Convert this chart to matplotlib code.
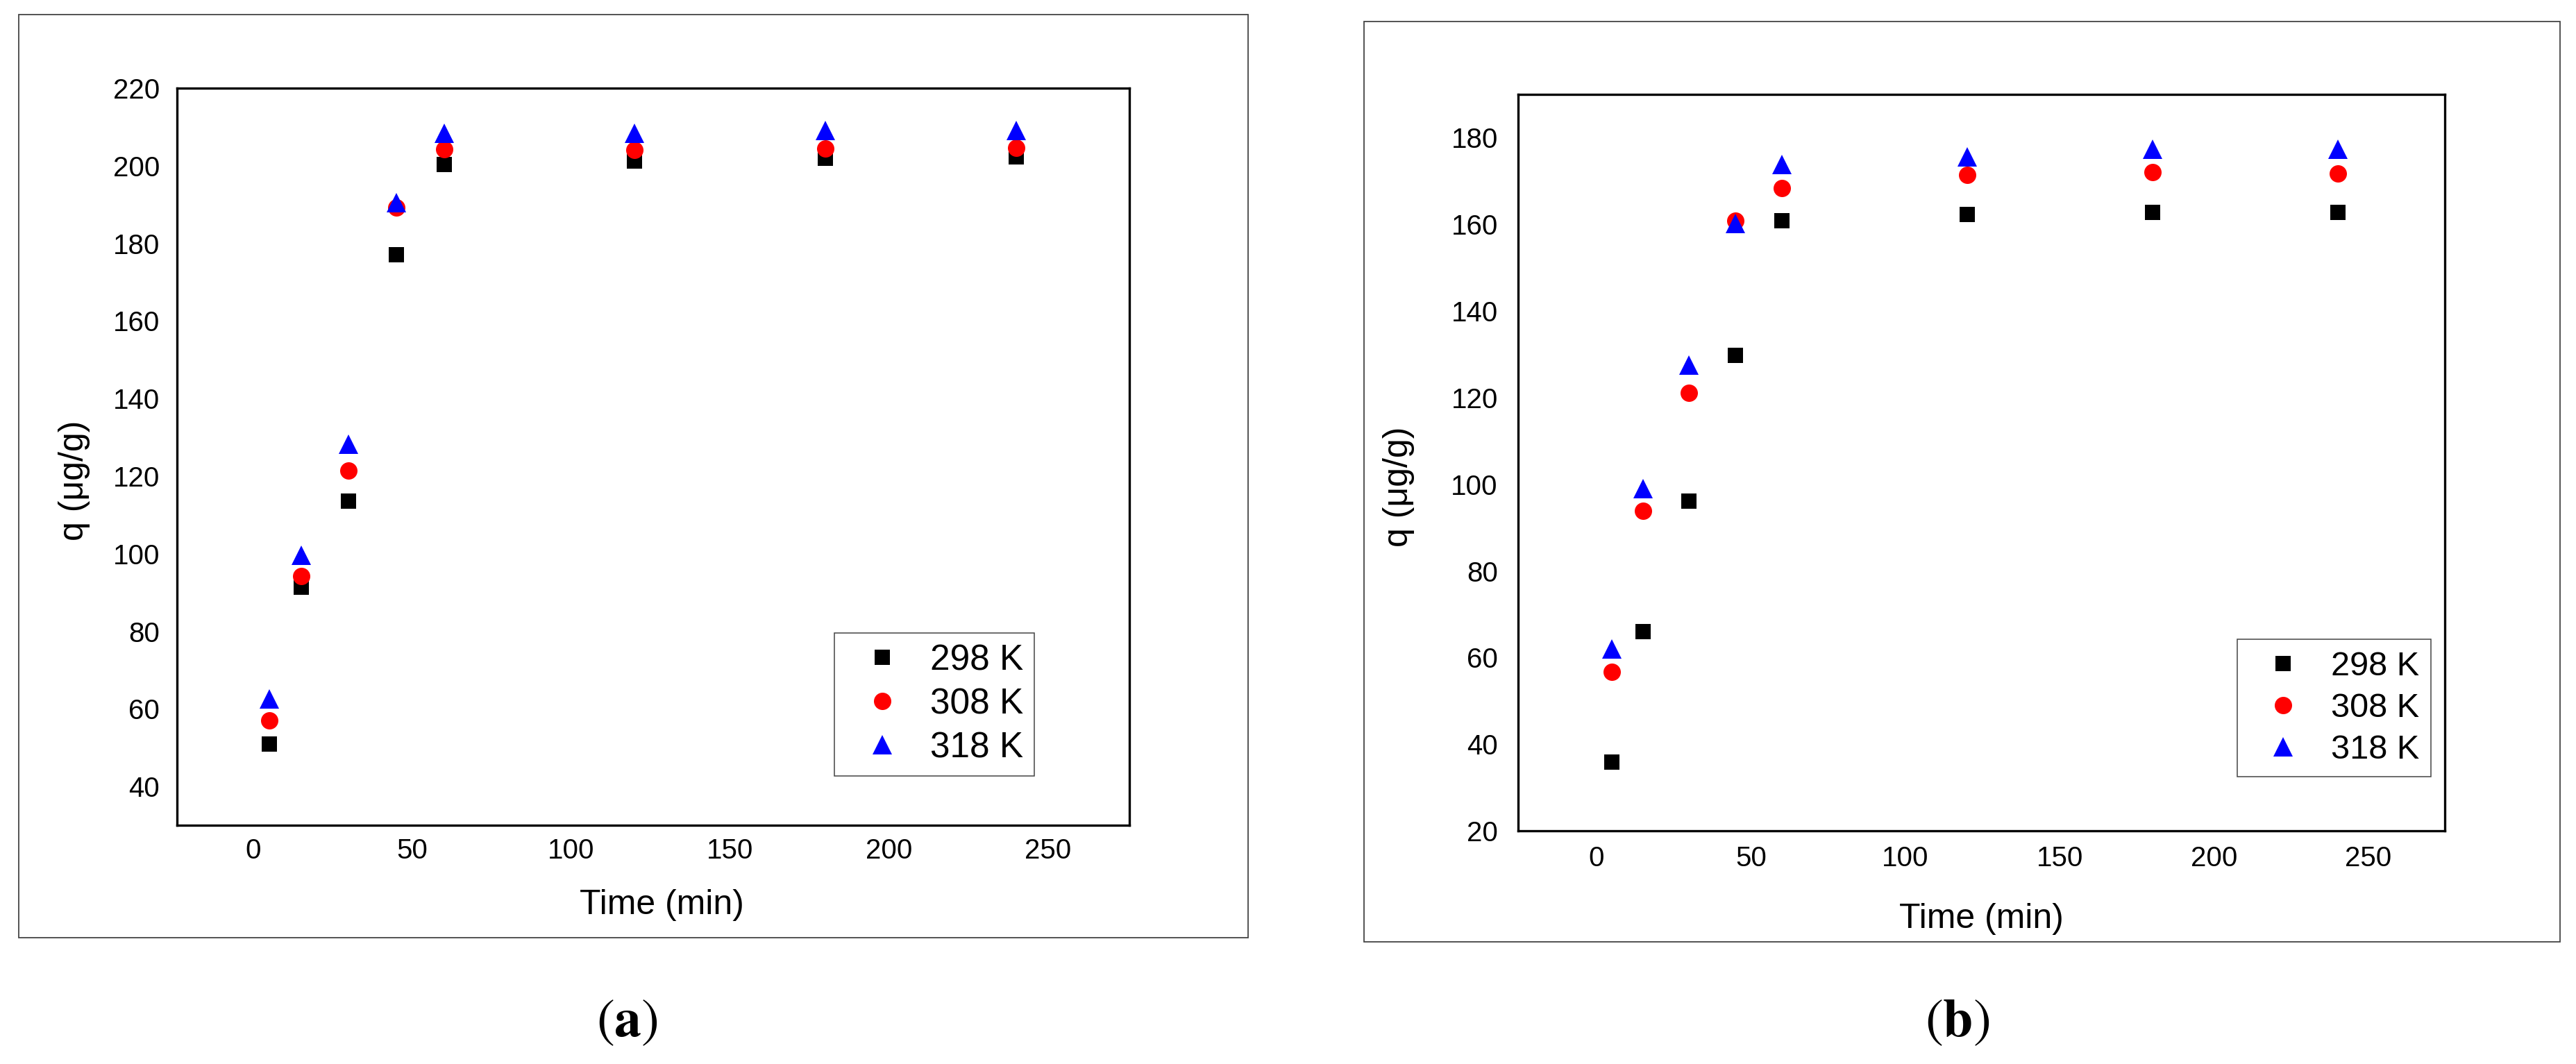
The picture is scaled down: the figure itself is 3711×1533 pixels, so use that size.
import matplotlib
matplotlib.use("Agg")
import matplotlib.pyplot as plt
from matplotlib.patches import Rectangle

plt.rcParams['font.family'] = ['Liberation Sans', 'DejaVu Sans']
plt.rcParams['mathtext.fontset'] = 'stix'

# contact time (min)
time_min = [5, 15, 30, 45, 60, 120, 180, 240]
temps = ['298 K', '308 K', '318 K']

# panel (a)
q_a_298 = [51.0, 91.4, 113.6, 177.1, 200.4, 201.3, 202.0, 202.2]
q_a_308 = [57.1, 94.3, 121.5, 189.2, 204.2, 204.1, 204.4, 204.6]
q_a_318 = [62.5, 99.6, 128.2, 190.5, 208.4, 208.4, 209.0, 209.0]

# panel (b)
q_b_298 = [35.8, 66.0, 96.1, 129.8, 160.9, 162.3, 162.8, 162.8]
q_b_308 = [56.7, 93.8, 121.1, 160.9, 168.4, 171.4, 172.0, 171.8]
q_b_318 = [62.0, 99.0, 127.5, 160.2, 173.8, 175.6, 177.3, 177.3]

W, H = 3711, 1533
fig = plt.figure(figsize=(W / 100, H / 100), dpi=100)
fig.patch.set_facecolor('white')


def px_box(x0, y0, x1, y1):
    # pixel box (top-left origin) -> figure fraction rect
    return [x0 / W, 1 - y1 / H, (x1 - x0) / W, (y1 - y0) / H]


styles = [dict(marker='s', color='black', markersize=16.5),
          dict(marker='o', color='red', markersize=18),
          dict(marker='^', color='blue', markersize=20)]


def draw_panel(rect, frame, series, ylim, yticks, xlim, lab_pos, leg_pos, leg_kw, tick_pad):
    # outer frame around the whole panel
    fr = px_box(*frame)
    fig.add_artist(Rectangle((fr[0], fr[1]), fr[2], fr[3], transform=fig.transFigure,
                             fill=False, edgecolor='#444444', linewidth=1.3))
    ax = fig.add_axes(px_box(*rect))
    for ys, st, lab in zip(series, styles, temps):
        ax.plot(time_min, ys, linestyle='none', markeredgewidth=0, label=lab, **st)
    ax.set_xlim(*xlim)
    ax.set_ylim(*ylim)
    ax.set_xticks([0, 50, 100, 150, 200, 250])
    ax.set_yticks(yticks)
    ax.tick_params(length=0, labelsize=29)
    ax.tick_params(axis='y', pad=tick_pad[0])
    ax.tick_params(axis='x', pad=tick_pad[1])
    for sp in ax.spines.values():
        sp.set_linewidth(2.4)
    ax.set_xlabel('Time (min)', fontsize=36, va='center')
    ax.set_ylabel('q (μg/g)', fontsize=36, va='center')
    ax.xaxis.set_label_coords(*lab_pos[0])
    ax.yaxis.set_label_coords(*lab_pos[1])
    leg = ax.legend(loc='upper left', bbox_to_anchor=(leg_pos[0] / W, 1 - leg_pos[1] / H),
                    bbox_transform=fig.transFigure, borderaxespad=0,
                    fancybox=False, framealpha=1, numpoints=1, **leg_kw)
    leg.get_frame().set_edgecolor('#444444')
    leg.get_frame().set_linewidth(1.1)
    return ax


ax_a = draw_panel((255, 127, 1627, 1189), (27, 21, 1798, 1351),
                  [q_a_298, q_a_308, q_a_318], (30, 220), range(40, 221, 20),
                  (-24, 275.6), ((0.509, -0.108), (-0.108, 0.468)), (1202, 912),
                  dict(fontsize=37, borderpad=0.3, handlelength=2.08, handletextpad=0.31,
                       labelspacing=0.27), (18, 13))

ax_b = draw_panel((2187, 136, 3522, 1197), (1965, 31, 3688, 1357),
                  [q_b_298, q_b_308, q_b_318], (20, 190), range(20, 181, 20),
                  (-25.4, 274.7), ((0.4996, -0.1197), (-0.1288, 0.4675)), (3223, 921),
                  dict(fontsize=35, borderpad=0.34, handlelength=2.04, handletextpad=0.4,
                       labelspacing=0.31), (21, 15))

fig.text(903 / W, 1 - 1473 / H, r'$\mathrm{(}\mathbf{a}\mathrm{)}$', fontsize=56, ha='center', va='center')
fig.text(2820 / W, 1 - 1473 / H, r'$\mathrm{(}\mathbf{b}\mathrm{)}$', fontsize=56, ha='center', va='center')

fig.savefig('out.png', dpi=100, facecolor='white')
